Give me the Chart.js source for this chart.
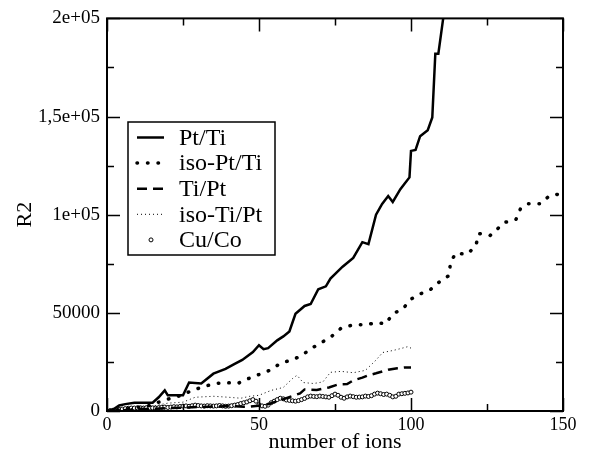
<!DOCTYPE html>
<html>
<head>
<meta charset="utf-8">
<script src="https://cdn.jsdelivr.net/npm/chart.js@4.4.0/dist/chart.umd.min.js"></script>
<style>
  html, body { margin: 0; padding: 0; background: #fff; }
  canvas { display: block; }
</style>
</head>
<body>
<canvas id="chart" width="590" height="460"></canvas>
<script>
// values
const ptTiX = [0, 2, 4, 6, 9, 12, 15, 17, 19, 20, 22, 25, 27, 31, 35, 39, 42, 44.5, 48, 50, 51.5, 53, 56, 58, 60, 62, 65, 67, 69.5, 72, 73.5, 77.5, 81, 84, 86, 88.5, 90.5, 92.5, 94, 96.5, 98, 99.5, 100, 101.5, 103, 105.5, 107, 108, 109, 110.5, 111.5];
const ptTiY = [0, 800, 2800, 3500, 4200, 4200, 4200, 7000, 10500, 8000, 8000, 8000, 14500, 14000, 19000, 21500, 24000, 26000, 30000, 33500, 31500, 32000, 36000, 38000, 40500, 49500, 53500, 54500, 62000, 63500, 67500, 73500, 78000, 86000, 85000, 100000, 105500, 109500, 106500, 113000, 116000, 119000, 132500, 133000, 140000, 143000, 149500, 182000, 182000, 199000, 210000];

const isoPtTiX = [0, 5, 10, 15, 17, 21, 24.5, 28, 32, 35.5, 39, 43, 46.5, 50, 54, 57, 61, 64, 67, 70.5, 74, 77, 81, 85, 88.7, 91.7, 94, 97.3, 100, 103, 106.5, 109.5, 112.5, 113, 114.7, 118.4, 121.3, 122.3, 126, 128.6, 130.6, 134.5, 136, 138.5, 142.7, 145.4, 149, 150];
const isoPtTiY = [0, 800, 1800, 3000, 4500, 6500, 8000, 10500, 12500, 14000, 14500, 14000, 16500, 18600, 21000, 24300, 26100, 28200, 31700, 34800, 38200, 42200, 43900, 43900, 45000, 44400, 49500, 52000, 57000, 59600, 62000, 66000, 69000, 75700, 80400, 79800, 84000, 90400, 89400, 93000, 96000, 97500, 103000, 105600, 105600, 109500, 110600, 111000];

const tiPtX = [0, 10, 20, 30, 40, 45, 47, 52, 55, 58, 61, 63.5, 65, 69, 73, 76, 79, 81, 84, 86, 88.5, 92.5, 95.5, 98, 100];
const tiPtY = [0, 800, 1500, 2000, 2500, 2200, 2200, 3000, 4500, 6000, 7600, 9000, 11000, 10700, 12000, 13500, 13700, 15600, 17000, 18200, 19200, 21000, 21800, 22200, 22200];

const isoTiPtX = [0, 5, 10, 15, 20, 25, 29, 35, 40, 44, 47, 50, 54, 58, 61, 62.5, 64.5, 68, 71, 73.5, 77, 81, 85, 88.4, 90.7, 94, 96.6, 99, 100];
const isoTiPtY = [0, 1000, 1500, 2500, 4000, 4500, 7000, 7500, 7000, 6500, 7500, 8000, 10500, 12000, 16500, 18200, 14500, 14000, 14800, 19700, 20200, 19500, 20700, 25800, 29800, 30800, 31800, 32800, 32000];

// Cu/Co: one value per ion count, 0..100
const cuCoY = [
  0, 200, 400, 600, 800, 1000, 1200, 1400, 1500, 1500, 1600,
  1600, 1500, 1700, 1800, 1600, 1500, 1700, 1900, 2000, 1800,
  2000, 2200, 2100, 2300, 2500, 2600, 2400, 2700, 3000, 2800,
  2600, 2500, 2700, 2600, 2500, 2600, 2800, 2600, 2400, 2500,
  2700, 3000, 3300, 3800, 4200, 4600, 5200, 5800, 5000, 3200,
  2600, 2400, 3000, 4200, 5000, 5800, 6500, 6200, 5600, 5400,
  5200, 5000, 5300, 5800, 6400, 7200, 7600, 7400, 7300, 7600,
  7400, 7200, 7000, 7800, 8600, 8000, 7000, 6500, 7200, 7600,
  7300, 7000, 7100, 7200, 7600, 7400, 7800, 8600, 9100, 8800,
  8400, 8600, 8000, 7200, 7500, 8600, 8800, 9000, 9200, 9600
];

const yTickValues = [0, 50000, 100000, 150000, 200000];
const yTickLabels = ['0', '50000', '1e+05', '1,5e+05', '2e+05'];

const FONT = 'Liberation Serif';

function toPoints(xs, ys) {
    return xs.map((x, i) => ({ x: x, y: ys[i] }));
}

// box around the plot with inward ticks on all four sides
const frame = {
    id: 'frame',
    afterDatasetsDraw(chart) {
        const ctx = chart.ctx;
        const a = chart.chartArea;
        const xs = chart.scales.x;
        const ys = chart.scales.y;
        ctx.save();
        ctx.strokeStyle = '#000';
        ctx.lineWidth = 2;
        ctx.strokeRect(a.left, a.top, a.right - a.left, a.bottom - a.top);
        ctx.lineWidth = 1.5;
        ctx.beginPath();
        for (let v = 0; v <= 150; v += 25) {
            let px = Math.round(xs.getPixelForValue(v)) + 0.5;
            let len = v % 50 === 0 ? 13 : 7;
            ctx.moveTo(px, a.bottom); ctx.lineTo(px, a.bottom - len);
            ctx.moveTo(px, a.top); ctx.lineTo(px, a.top + len);
        }
        for (let v = 0; v <= 200000; v += 25000) {
            let py = Math.round(ys.getPixelForValue(v)) + 0.5;
            let len = v % 50000 === 0 ? 13 : 7;
            ctx.moveTo(a.left, py); ctx.lineTo(a.left + len, py);
            ctx.moveTo(a.right, py); ctx.lineTo(a.right - len, py);
        }
        ctx.stroke();
        ctx.restore();
    }
};

// legend box inside the plot, like the original
const legendBox = {
    id: 'legendBox',
    afterDraw(chart) {
        const ctx = chart.ctx;
        const left = 128, top = 122, right = 275, bottom = 255;
        ctx.save();
        ctx.fillStyle = '#fff';
        ctx.fillRect(left, top, right - left, bottom - top);
        ctx.strokeStyle = '#000';
        ctx.lineWidth = 1.5;
        ctx.strokeRect(left, top, right - left, bottom - top);

        chart.data.datasets.forEach(function (ds, i) {
            let y = 137.5 + i * 25.6;
            ctx.save();
            if (ds.showLine) {
                ctx.strokeStyle = ds.borderColor;
                ctx.lineWidth = ds.borderWidth;
                ctx.setLineDash(ds.borderDash || []);
                ctx.lineCap = ds.borderCapStyle || 'butt';
                ctx.beginPath();
                ctx.moveTo(137, y);
                ctx.lineTo(164, y);
                ctx.stroke();
            } else {
                ctx.fillStyle = ds.pointBackgroundColor;
                ctx.strokeStyle = ds.pointBorderColor;
                ctx.lineWidth = ds.pointBorderWidth;
                ctx.beginPath();
                ctx.arc(151, y, ds.pointRadius, 0, Math.PI * 2);
                ctx.fill();
                ctx.stroke();
            }
            ctx.restore();
            ctx.fillStyle = '#000';
            ctx.font = `24px "${FONT}"`;
            ctx.textBaseline = 'middle';
            ctx.fillText(ds.label, 179, y + 1);
        });
        ctx.restore();
    }
};

const whiteBg = {
    id: 'whiteBg',
    beforeDraw(chart) {
        const ctx = chart.ctx;
        ctx.save();
        ctx.fillStyle = '#fff';
        ctx.fillRect(0, 0, chart.width, chart.height);
        ctx.restore();
    }
};

new Chart(document.getElementById('chart'), {
    type: 'scatter',
    data: {
        datasets: [
            {
                label: 'Pt/Ti', data: toPoints(ptTiX, ptTiY), showLine: true,
                borderColor: '#000', borderWidth: 2.5, pointRadius: 0, clip: 0
            },
            {
                label: 'iso-Pt/Ti', data: toPoints(isoPtTiX, isoPtTiY), showLine: true,
                borderColor: '#000', borderWidth: 3.5, borderDash: [0.5, 10], borderCapStyle: 'round',
                pointRadius: 0, clip: 0
            },
            {
                label: 'Ti/Pt', data: toPoints(tiPtX, tiPtY), showLine: true,
                borderColor: '#000', borderWidth: 2.5, borderDash: [10, 6], pointRadius: 0, clip: 0
            },
            {
                label: 'iso-Ti/Pt', data: toPoints(isoTiPtX, isoTiPtY), showLine: true,
                borderColor: '#000', borderWidth: 1, borderDash: [1, 3], pointRadius: 0, clip: 0
            },
            {
                label: 'Cu/Co', data: cuCoY.map((y, i) => ({ x: i, y: y })), showLine: false,
                pointRadius: 2, pointBorderWidth: 1, pointBackgroundColor: '#fff', pointBorderColor: '#000',
                pointStyle: 'circle', clip: 0
            }
        ]
    },
    options: {
        responsive: false,
        animation: false,
        events: [],
        layout: { padding: { top: 14, right: 27, left: 0, bottom: 0 } },
        plugins: {
            legend: { display: false },
            tooltip: { enabled: false }
        },
        scales: {
            x: {
                type: 'linear', min: 0, max: 150,
                ticks: { stepSize: 50, color: '#000', padding: 3, maxRotation: 0, font: { family: FONT, size: 18 } },
                grid: { drawOnChartArea: false, drawTicks: false },
                border: { display: false },
                title: {
                    display: true, text: 'number of ions', color: '#000',
                    font: { family: FONT, size: 22, lineHeight: 1.2 }, padding: { top: 0, bottom: 5 }
                },
                afterFit(scale) { scale.height = 49; }
            },
            y: {
                type: 'linear', min: 0, max: 200000,
                afterBuildTicks(scale) { scale.ticks = yTickValues.map(v => ({ value: v })); },
                ticks: {
                    color: '#000', padding: 7, font: { family: FONT, size: 19 },
                    callback: (v) => yTickLabels[yTickValues.indexOf(v)]
                },
                grid: { drawOnChartArea: false, drawTicks: false },
                border: { display: false },
                title: {
                    display: true, text: 'R2', color: '#000',
                    font: { family: FONT, size: 22, lineHeight: 1.2 }, padding: { top: 12, bottom: 0 }
                },
                afterFit(scale) { scale.width = 107; }
            }
        }
    },
    plugins: [whiteBg, frame, legendBox]
});
</script>
</body>
</html>
